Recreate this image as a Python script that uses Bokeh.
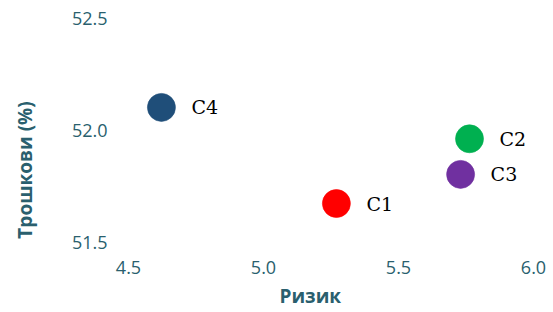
from bokeh.plotting import figure
from bokeh.models import ColumnDataSource, FixedTicker, NumeralTickFormatter, Range1d, LabelSet, Title
from bokeh.embed import file_html
from bokeh.resources import INLINE
from bokeh.core.properties import value

names = ["C1", "C2", "C3", "C4"]
risk = [5.27, 5.763, 5.73, 4.622]
cost = [51.674, 51.963, 51.804, 52.103]
colors = ["#FF0000", "#00B050", "#7030A0", "#1F4E79"]
x_ticks = [4.5, 5.0, 5.5, 6.0]
y_ticks = [51.5, 52.0, 52.5]
x_title = "Ризик"
y_title = "Трошкови (%)"

TEAL = "#2A5F6E"

src = ColumnDataSource(dict(x=risk, y=cost, name=names, color=colors))

p = figure(frame_width=405, frame_height=224, output_backend="svg", toolbar_location=None,
           x_range=Range1d(4.5, 6.0), y_range=Range1d(51.5, 52.5),
           min_border_left=128, min_border_right=20, min_border_top=18, min_border_bottom=70)
p.outline_line_color = None
p.xgrid.visible = False
p.ygrid.visible = False
p.background_fill_color = "white"
p.border_fill_color = "white"

for ax, ticks, stand in ((p.xaxis[0], x_ticks, 18), (p.yaxis[0], y_ticks, 21)):
    ax.ticker = FixedTicker(ticks=ticks)
    ax.formatter = NumeralTickFormatter(format="0.0")
    ax.axis_line_color = None
    ax.major_tick_line_color = None
    ax.minor_tick_line_color = None
    ax.major_tick_out = 0
    ax.major_tick_in = 0
    ax.major_label_standoff = stand
    ax.major_label_text_font = "Open Sans"
    ax.major_label_text_font_size = "18px"
    ax.major_label_text_color = TEAL

# y title as axis label; trailing no-break spaces shift the visible text down like the reference
yax = p.yaxis[0]
yax.axis_label = y_title + "\u00a0" * 16
yax.axis_label_standoff = 31
yax.axis_label_text_font = "Open Sans"
yax.axis_label_text_font_style = "bold"
yax.axis_label_text_font_size = "19px"
yax.axis_label_text_color = TEAL

p.scatter("x", "y", source=src, size=28, fill_color="color", line_color="color", line_alpha=0.6)

labels = LabelSet(x="x", y="y", text="name", source=src, x_offset=30, y_offset=0,
                  text_baseline="middle", text_align="left",
                  text_font=value("DejaVu Serif"), text_font_size="19px", text_color="black")
p.add_layout(labels)

p.add_layout(Title(text=x_title, align="left", offset=151, standoff=9,
                   text_font="Open Sans", text_font_style="bold", text_font_size="19px",
                   text_color=TEAL), "below")

open("out.html", "w").write(file_html(p, INLINE))
